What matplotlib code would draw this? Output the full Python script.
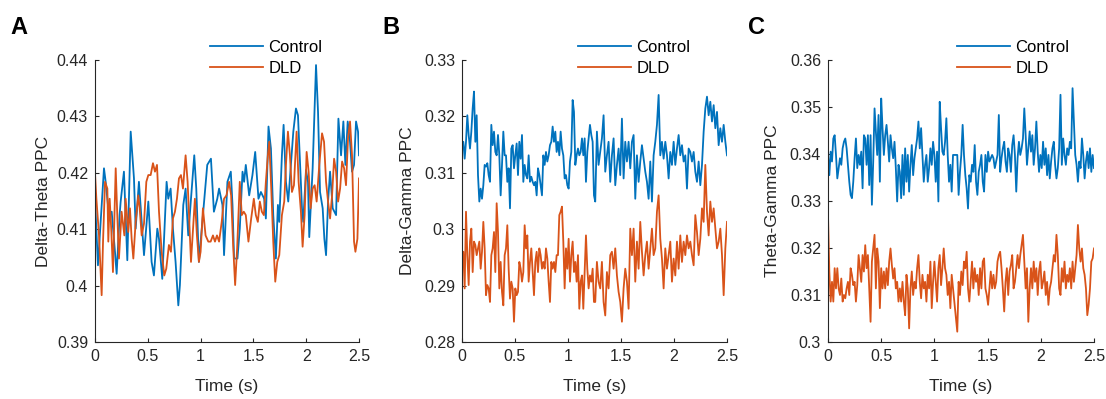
import numpy as np
import matplotlib.pyplot as plt
from matplotlib.ticker import FormatStrFormatter

plt.rcParams["font.family"] = ["Liberation Sans", "DejaVu Sans"]

blue = "#0072BD"
orange = "#D95319"

# Panel A: Delta-Theta PPC
a_t_control = [0, 0.028, 0.085, 0.101, 0.132, 0.158, 0.189, 0.205, 0.233, 0.243,
               0.274, 0.306, 0.338, 0.369, 0.385, 0.416, 0.464, 0.505, 0.536, 0.558,
               0.590, 0.606, 0.637, 0.678, 0.694, 0.716, 0.738, 0.763, 0.789, 0.804,
               0.836, 0.858, 0.883, 0.940, 0.959, 0.984, 1.063, 1.098, 1.126, 1.158,
               1.175, 1.207, 1.222, 1.254, 1.286, 1.302, 1.317, 1.349, 1.371, 1.397,
               1.412, 1.428, 1.460, 1.491, 1.517, 1.548, 1.571, 1.602, 1.618, 1.643,
               1.666, 1.688, 1.713, 1.732, 1.745, 1.770, 1.786, 1.808, 1.830, 1.855,
               1.878, 1.903, 1.922, 1.941, 1.960, 1.972, 1.998, 2.017, 2.029, 2.061,
               2.093, 2.112, 2.131, 2.156, 2.172, 2.188, 2.207, 2.226, 2.251, 2.283,
               2.305, 2.330, 2.352, 2.371, 2.393, 2.415, 2.434, 2.453, 2.472, 2.491,
               2.500]
a_control = [0.4154, 0.4036, 0.4208, 0.4184, 0.4125, 0.4131, 0.4060, 0.4021, 0.4125, 0.4149,
             0.4202, 0.4045, 0.4273, 0.4190, 0.4101, 0.4184, 0.4054, 0.4149, 0.4042, 0.4018,
             0.4101, 0.4083, 0.4012, 0.4184, 0.4154, 0.4172, 0.4101, 0.4042, 0.3965, 0.4001,
             0.4143, 0.4172, 0.4089, 0.4231, 0.4172, 0.4042, 0.4214, 0.4225, 0.4131, 0.4154,
             0.4172, 0.4143, 0.4054, 0.4184, 0.4202, 0.4143, 0.4048, 0.4048, 0.4101, 0.4202,
             0.4184, 0.4214, 0.4160, 0.4196, 0.4237, 0.4154, 0.4166, 0.4154, 0.4119, 0.4282,
             0.4243, 0.4125, 0.4048, 0.4143, 0.4113, 0.4231, 0.4285, 0.4184, 0.4149, 0.4214,
             0.4273, 0.4314, 0.4302, 0.4220, 0.4137, 0.4113, 0.4205, 0.4184, 0.4086, 0.4208,
             0.4391, 0.4308, 0.4166, 0.4137, 0.4083, 0.4054, 0.4149, 0.4202, 0.4137, 0.4125,
             0.4296, 0.4231, 0.4291, 0.4214, 0.4291, 0.4255, 0.4202, 0.4214, 0.4291, 0.4273,
             0.4231]

a_t_dld = [0, 0.013, 0.038, 0.063, 0.076, 0.095, 0.117, 0.126, 0.139, 0.155,
           0.170, 0.196, 0.211, 0.227, 0.252, 0.278, 0.290, 0.315, 0.331, 0.347,
           0.363, 0.385, 0.410, 0.423, 0.442, 0.464, 0.486, 0.505, 0.527, 0.549,
           0.568, 0.587, 0.606, 0.631, 0.656, 0.675, 0.700, 0.719, 0.738, 0.757,
           0.776, 0.795, 0.814, 0.833, 0.858, 0.877, 0.890, 0.909, 0.927, 0.946,
           0.965, 0.984, 1.000, 1.022, 1.047, 1.073, 1.095, 1.117, 1.136, 1.155,
           1.175, 1.200, 1.222, 1.245, 1.270, 1.289, 1.308, 1.327, 1.346, 1.371,
           1.390, 1.409, 1.428, 1.453, 1.479, 1.504, 1.523, 1.542, 1.561, 1.580,
           1.599, 1.618, 1.637, 1.650, 1.669, 1.688, 1.707, 1.726, 1.745, 1.770,
           1.792, 1.808, 1.827, 1.846, 1.865, 1.884, 1.909, 1.928, 1.950, 1.966,
           1.985, 2.004, 2.023, 2.042, 2.061, 2.080, 2.099, 2.124, 2.150, 2.169,
           2.188, 2.207, 2.226, 2.245, 2.264, 2.283, 2.302, 2.321, 2.340, 2.359,
           2.377, 2.396, 2.415, 2.434, 2.453, 2.466, 2.485, 2.500]
a_dld = [0.4199, 0.4154, 0.4089, 0.3983, 0.4078, 0.4184, 0.4172, 0.4078, 0.4154, 0.4095,
         0.4024, 0.4208, 0.4125, 0.4048, 0.4131, 0.4089, 0.4154, 0.4095, 0.4137, 0.4083,
         0.4048, 0.4113, 0.4160, 0.4137, 0.4089, 0.4110, 0.4184, 0.4196, 0.4196, 0.4217,
         0.4202, 0.4214, 0.4131, 0.4060, 0.4018, 0.4030, 0.4072, 0.4060, 0.4119, 0.4131,
         0.4154, 0.4190, 0.4196, 0.4172, 0.4231, 0.4184, 0.4125, 0.4042, 0.4095, 0.4154,
         0.4089, 0.4042, 0.4060, 0.4137, 0.4089, 0.4078, 0.4078, 0.4089, 0.4078, 0.4089,
         0.4078, 0.4113, 0.4154, 0.4160, 0.4184, 0.4160, 0.4072, 0.4001, 0.4066, 0.4184,
         0.4125, 0.4131, 0.4125, 0.4078, 0.4119, 0.4154, 0.4125, 0.4113, 0.4149, 0.4131,
         0.4125, 0.4184, 0.4231, 0.4255, 0.4172, 0.4078, 0.4007, 0.4042, 0.4054, 0.4125,
         0.4149, 0.4214, 0.4273, 0.4231, 0.4166, 0.4178, 0.4273, 0.4184, 0.4131, 0.4069,
         0.4125, 0.4237, 0.4202, 0.4137, 0.4172, 0.4178, 0.4149, 0.4214, 0.4270, 0.4255,
         0.4184, 0.4149, 0.4119, 0.4160, 0.4225, 0.4202, 0.4149, 0.4172, 0.4220, 0.4208,
         0.4178, 0.4261, 0.4291, 0.4231, 0.4078, 0.4060, 0.4083, 0.4190]

# Panel B: Delta-Gamma PPC
b_t1 = np.linspace(0, 1.245, 100)
b_t2 = np.linspace(1.257, 2.5, 80)
b_control = [
    0.3143, 0.3155, 0.3125, 0.3155, 0.3202, 0.3167, 0.3143, 0.3173, 0.3214, 0.3244,
    0.3155, 0.3202, 0.3096, 0.3049, 0.3072, 0.3054, 0.3078, 0.3114, 0.3111, 0.3117,
    0.3096, 0.3084, 0.3185, 0.3149, 0.3173, 0.3137, 0.3131, 0.3167, 0.3131, 0.3060,
    0.3114, 0.3173, 0.3131, 0.3131, 0.3084, 0.3108, 0.3037, 0.3143, 0.3149, 0.3108,
    0.3131, 0.3152, 0.3096, 0.3155, 0.3125, 0.3167, 0.3084, 0.3114, 0.3096, 0.3090,
    0.3131, 0.3084, 0.3093, 0.3084, 0.3078, 0.3084, 0.3060, 0.3108, 0.3096, 0.3078,
    0.3060, 0.3131, 0.3114, 0.3137, 0.3120, 0.3131, 0.3149, 0.3155, 0.3182, 0.3155,
    0.3173, 0.3137, 0.3155, 0.3131, 0.3173, 0.3143, 0.3131, 0.3090, 0.3096, 0.3078,
    0.3072, 0.3120, 0.3137, 0.3229, 0.3208, 0.3114, 0.3131, 0.3143, 0.3131, 0.3137,
    0.3161, 0.3131, 0.3161, 0.3084, 0.3137, 0.3161, 0.3185, 0.3167, 0.3155, 0.3060,
    0.3049, 0.3173, 0.3114, 0.3137, 0.3161, 0.3202, 0.3102, 0.3131, 0.3155, 0.3084,
    0.3131, 0.3161, 0.3078, 0.3114, 0.3143, 0.3096, 0.3196, 0.3090, 0.3155, 0.3120,
    0.3155, 0.3108, 0.3155, 0.3167, 0.3054, 0.3131, 0.3084, 0.3120, 0.3149, 0.3125,
    0.3102, 0.3084, 0.3054, 0.3120, 0.3049, 0.3131, 0.3155, 0.3185, 0.3238, 0.3131,
    0.3155, 0.3125, 0.3155, 0.3131, 0.3090, 0.3137, 0.3114, 0.3155, 0.3114, 0.3143,
    0.3167, 0.3131, 0.3149, 0.3120, 0.3131, 0.3072, 0.3143, 0.3137, 0.3120, 0.3137,
    0.3102, 0.3084, 0.3120, 0.3078, 0.3114, 0.3173, 0.3214, 0.3235, 0.3202, 0.3226,
    0.3191, 0.3220, 0.3179, 0.3208, 0.3149, 0.3179, 0.3155, 0.3185, 0.3155, 0.3131]
b_dld = [
    0.2936, 0.2960, 0.2895, 0.3031, 0.2954, 0.2901, 0.2978, 0.3001, 0.2924, 0.2978,
    0.2972, 0.2954, 0.2966, 0.2978, 0.2930, 0.2960, 0.3013, 0.2966, 0.2883, 0.2901,
    0.2895, 0.2871, 0.2954, 0.2966, 0.2995, 0.2924, 0.3046, 0.2995, 0.2895, 0.2942,
    0.2889, 0.2865, 0.2954, 0.2966, 0.3007, 0.2930, 0.2877, 0.2907, 0.2895, 0.2836,
    0.2895, 0.2883, 0.2889, 0.2942, 0.2930, 0.2907, 0.2924, 0.3007, 0.2966, 0.2989,
    0.2907, 0.2942, 0.2966, 0.2924, 0.2883, 0.2942, 0.2960, 0.2924, 0.2966, 0.2954,
    0.2930, 0.2942, 0.2930, 0.2966, 0.2948, 0.2907, 0.2871, 0.2942, 0.2930, 0.2942,
    0.2924, 0.2954, 0.2954, 0.3025, 0.3031, 0.3040, 0.2978, 0.2895, 0.2966, 0.2930,
    0.2983, 0.2907, 0.2954, 0.2978, 0.2924, 0.2942, 0.2907, 0.2954, 0.2859, 0.2907,
    0.2918, 0.2859, 0.2924, 0.2989, 0.2930, 0.2895, 0.2918, 0.2907, 0.2930, 0.2871,
    0.2871, 0.2942, 0.2907, 0.2895, 0.2942, 0.2871, 0.2847, 0.2924, 0.2895, 0.2954,
    0.2960, 0.2930, 0.2966, 0.2918, 0.2889, 0.2871, 0.2836, 0.2895, 0.2930, 0.2907,
    0.2859, 0.3001, 0.2954, 0.3001, 0.2907, 0.2978, 0.2930, 0.3013, 0.2960, 0.2918,
    0.2954, 0.2978, 0.2930, 0.2966, 0.3001, 0.2954, 0.2966, 0.3031, 0.3060, 0.2983,
    0.2948, 0.2895, 0.2966, 0.2930, 0.2954, 0.2978, 0.2907, 0.2948, 0.2918, 0.2978,
    0.2930, 0.2989, 0.2942, 0.2978, 0.2954, 0.2989, 0.2966, 0.2978, 0.2954, 0.2936,
    0.3025, 0.2995, 0.2954, 0.2983, 0.3037, 0.3013, 0.3114, 0.3031, 0.2989, 0.3049,
    0.3013, 0.3037, 0.3001, 0.2966, 0.2978, 0.3001, 0.2954, 0.2883, 0.2966, 0.3013]

# Panel C: Theta-Gamma PPC
c_t1 = np.linspace(0, 1.175, 95)
c_t2 = np.linspace(1.215, 2.5, 103)
c_control = [
    0.3398, 0.3355, 0.3405, 0.3384, 0.3433, 0.3440, 0.3398, 0.3348, 0.3370, 0.3391,
    0.3377, 0.3412, 0.3426, 0.3433, 0.3412, 0.3377, 0.3341, 0.3313, 0.3306, 0.3341,
    0.3391, 0.3433, 0.3370, 0.3398, 0.3377, 0.3405, 0.3327, 0.3440, 0.3433, 0.3377,
    0.3440, 0.3334, 0.3440, 0.3292, 0.3384, 0.3497, 0.3448, 0.3398, 0.3483, 0.3341,
    0.3518, 0.3455, 0.3398, 0.3440, 0.3462, 0.3426, 0.3384, 0.3440, 0.3412, 0.3391,
    0.3426, 0.3370, 0.3299, 0.3377, 0.3362, 0.3306, 0.3398, 0.3313, 0.3412, 0.3341,
    0.3398, 0.3320, 0.3377, 0.3419, 0.3355, 0.3391, 0.3412, 0.3433, 0.3469, 0.3412,
    0.3455, 0.3398, 0.3341, 0.3377, 0.3398, 0.3341, 0.3370, 0.3412, 0.3377, 0.3426,
    0.3398, 0.3341, 0.3405, 0.3299, 0.3511, 0.3455, 0.3405, 0.3398, 0.3426, 0.3476,
    0.3398, 0.3341, 0.3377, 0.3320, 0.3398,
    0.3398, 0.3313, 0.3362, 0.3398, 0.3462, 0.3398, 0.3355, 0.3327, 0.3284, 0.3355,
    0.3341, 0.3377, 0.3362, 0.3419, 0.3341, 0.3313, 0.3362, 0.3377, 0.3398, 0.3341,
    0.3320, 0.3398, 0.3362, 0.3405, 0.3384, 0.3391, 0.3398, 0.3391, 0.3370, 0.3384,
    0.3398, 0.3483, 0.3362, 0.3391, 0.3412, 0.3426, 0.3384, 0.3362, 0.3412, 0.3398,
    0.3362, 0.3419, 0.3440, 0.3398, 0.3320, 0.3391, 0.3426, 0.3398, 0.3412, 0.3433,
    0.3497, 0.3440, 0.3377, 0.3412, 0.3448, 0.3405, 0.3440, 0.3377, 0.3412, 0.3469,
    0.3405, 0.3362, 0.3398, 0.3370, 0.3426, 0.3377, 0.3412, 0.3355, 0.3398, 0.3348,
    0.3384, 0.3412, 0.3426, 0.3377, 0.3348, 0.3370, 0.3412, 0.3526, 0.3377, 0.3433,
    0.3398, 0.3377, 0.3412, 0.3398, 0.3426, 0.3412, 0.3540, 0.3469, 0.3398, 0.3377,
    0.3341, 0.3384, 0.3370, 0.3433, 0.3398, 0.3348, 0.3384, 0.3405, 0.3370, 0.3412,
    0.3362, 0.3398, 0.3370]
c_dld = [
    0.3270, 0.3150, 0.3086, 0.3128, 0.3086, 0.3157, 0.3114, 0.3157, 0.3114, 0.3100,
    0.3135, 0.3086, 0.3100, 0.3093, 0.3114, 0.3128, 0.3100, 0.3157, 0.3143, 0.3121,
    0.3128, 0.3086, 0.3121, 0.3185, 0.3157, 0.3128, 0.3185, 0.3150, 0.3206, 0.3157,
    0.3185, 0.3114, 0.3043, 0.3171, 0.3199, 0.3228, 0.3114, 0.3199, 0.3171, 0.3072,
    0.3157, 0.3114, 0.3150, 0.3114, 0.3157, 0.3121, 0.3171, 0.3199, 0.3164, 0.3135,
    0.3157, 0.3114, 0.3128, 0.3086, 0.3114, 0.3086, 0.3128, 0.3086, 0.3057, 0.3143,
    0.3114, 0.3029, 0.3114, 0.3150, 0.3100, 0.3128, 0.3114, 0.3157, 0.3185, 0.3128,
    0.3093, 0.3143, 0.3114, 0.3128, 0.3086, 0.3143, 0.3114, 0.3171, 0.3072, 0.3128,
    0.3171, 0.3128, 0.3086, 0.3157, 0.3185, 0.3121, 0.3157, 0.3199, 0.3157, 0.3143,
    0.3100, 0.3128, 0.3072, 0.3143, 0.3114,
    0.3022, 0.3128, 0.3100, 0.3150, 0.3121, 0.3171, 0.3157, 0.3192, 0.3114, 0.3086,
    0.3128, 0.3171, 0.3114, 0.3157, 0.3128, 0.3143, 0.3100, 0.3157, 0.3114, 0.3171,
    0.3178, 0.3114, 0.3100, 0.3079, 0.3114, 0.3150, 0.3114, 0.3143, 0.3114, 0.3128,
    0.3171, 0.3185, 0.3192, 0.3157, 0.3114, 0.3065, 0.3128, 0.3157, 0.3100, 0.3150,
    0.3164, 0.3185, 0.3114, 0.3128, 0.3157, 0.3185, 0.3157, 0.3185, 0.3206, 0.3228,
    0.3171, 0.3114, 0.3157, 0.3043, 0.3114, 0.3157, 0.3114, 0.3171, 0.3128, 0.3157,
    0.3100, 0.3150, 0.3171, 0.3114, 0.3128, 0.3150, 0.3100, 0.3128, 0.3079, 0.3114,
    0.3128, 0.3157, 0.3185, 0.3171, 0.3228, 0.3185, 0.3114, 0.3100, 0.3157, 0.3128,
    0.3171, 0.3114, 0.3143, 0.3128, 0.3157, 0.3114, 0.3171, 0.3128, 0.3157, 0.3185,
    0.3249, 0.3199, 0.3171, 0.3199, 0.3157, 0.3143, 0.3114, 0.3057, 0.3079, 0.3114,
    0.3171, 0.3178, 0.3199]

b_t = np.concatenate([b_t1, b_t2])
c_t = np.concatenate([c_t1, c_t2])

panels = [
    ("A", "Delta-Theta PPC", a_t_control, a_control, a_t_dld, a_dld, (0.39, 0.44)),
    ("B", "Delta-Gamma PPC", b_t, b_control, b_t, b_dld, (0.28, 0.33)),
    ("C", "Theta-Gamma PPC", c_t, c_control, c_t, c_dld, (0.30, 0.36)),
]

W, H = 1106, 399
fig = plt.figure(figsize=(W / 100, H / 100), dpi=100)

# axes boxes in pixels: left, right
boxes = [(95, 359), (462, 727), (828, 1094)]
letter_x = [10, 382, 748]
legend_x = [0.436, 0.438, 0.485]
ylab_x = [-0.165, -0.177, -0.18]
top, bottom = 60, 342
axis_col = "#262626"

for (letter, ylab, tc, vc, td, vd, ylim), (l, r), lx, lgx, ylx in zip(
        panels, boxes, letter_x, legend_x, ylab_x):
    ax = fig.add_axes([l / W, (H - bottom) / H, (r - l) / W, (bottom - top) / H])
    ax.plot(tc, vc, color=blue, lw=1.3, label="Control")
    ax.plot(td, vd, color=orange, lw=1.3, label="DLD")
    ax.set_xlim(0, 2.5)
    ax.set_ylim(*ylim)
    ax.set_xticks([0, 0.5, 1, 1.5, 2, 2.5])
    ax.set_yticks(np.round(np.arange(ylim[0], ylim[1] + 1e-9, 0.01), 2))
    ax.xaxis.set_major_formatter(FormatStrFormatter("%g"))
    ax.yaxis.set_major_formatter(FormatStrFormatter("%g"))
    ax.spines["top"].set_visible(False)
    ax.spines["right"].set_visible(False)
    for s in ("left", "bottom"):
        ax.spines[s].set_color(axis_col)
        ax.spines[s].set_linewidth(0.8)
    ax.tick_params(direction="in", length=3, width=0.8, colors=axis_col,
                   labelsize=11.5, labelcolor="#262626", pad=5)
    ax.set_xlabel("Time (s)", fontsize=12.5, color="#262626")
    ax.set_ylabel(ylab, fontsize=12.5, color="#262626")
    ax.xaxis.set_label_coords(0.5, -0.13)
    ax.yaxis.set_label_coords(ylx, 0.5)
    ax.legend(loc="upper left", bbox_to_anchor=(lgx, 1.07), frameon=False,
              fontsize=12, handlelength=3.2, handletextpad=0.3,
              borderpad=0, borderaxespad=0, labelspacing=0.35)
    fig.text(lx / W, 1 - 27 / H, letter, fontsize=17, fontweight="bold",
             va="center", ha="left")

fig.savefig("out.png", dpi=100)
